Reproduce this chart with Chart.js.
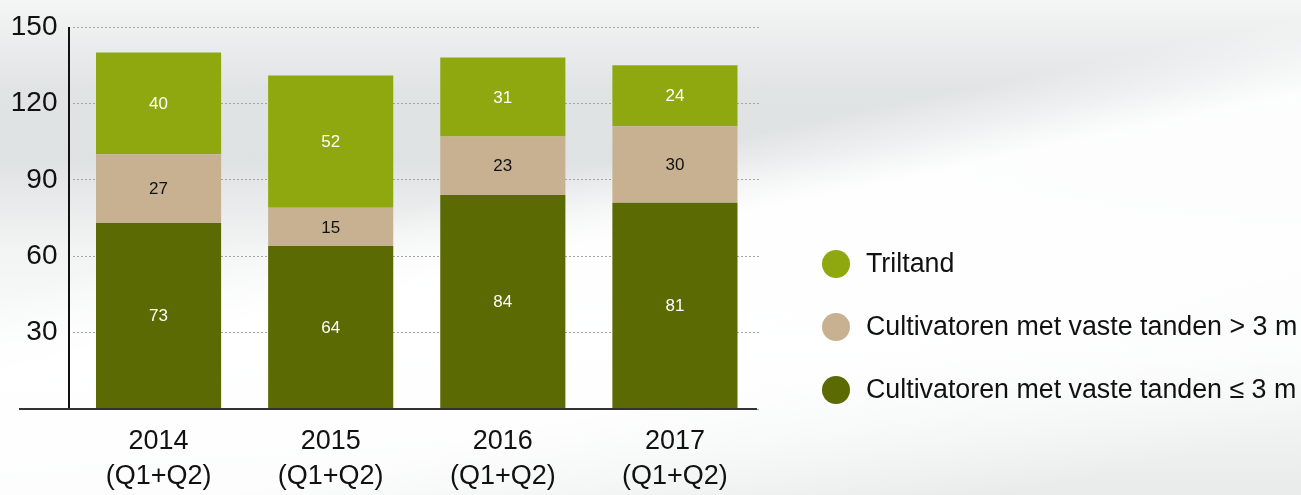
<!DOCTYPE html>
<html>
<head>
<meta charset="utf-8">
<script src="https://cdn.jsdelivr.net/npm/chart.js@4/dist/chart.umd.min.js"></script>
<style>
  html, body { margin: 0; padding: 0; }
  body {
    width: 1301px; height: 495px; overflow: hidden;
    background:
      linear-gradient(168deg, rgba(255,255,255,0) 0%, rgba(255,255,255,0) 38%, rgba(255,255,255,0.95) 48%, rgba(255,255,255,0.9) 70%, rgba(255,255,255,0) 92%),
      linear-gradient(180deg, #f4f5f5 0%, #e1e4e5 18%, #dfe2e3 32%, #f2f3f3 50%, #fafbfb 70%, #e9ebeb 100%);
  }
  #wrap { position: relative; width: 1301px; height: 495px; }
</style>
</head>
<body>
<div id="wrap"><canvas id="myChart" width="1301" height="495"></canvas></div>
<script>
'use strict';

var categories = [['2014', '(Q1+Q2)'], ['2015', '(Q1+Q2)'], ['2016', '(Q1+Q2)'], ['2017', '(Q1+Q2)']];
var seriesNames = ['Cultivatoren met vaste tanden \u2264 3 m', 'Cultivatoren met vaste tanden > 3 m', 'Triltand'];
var vasteKlein = [73, 64, 84, 81];
var vasteGroot = [27, 15, 23, 30];
var triltand = [40, 52, 31, 24];
var yTicks = [0, 30, 60, 90, 120, 150];

var colors = ['#5c6a03', '#c8b191', '#8fa80f'];
var labelColors = ['#ffffff', '#111111', '#ffffff'];
var narrow = '"Liberation Sans Narrow", "Arial Narrow", "Liberation Sans", sans-serif';

// waarden in de balken
var valueLabels = {
  id: 'valueLabels',
  afterDatasetsDraw: function (chart) {
    var ctx = chart.ctx;
    ctx.save();
    ctx.font = '17px ' + narrow;
    ctx.textAlign = 'center';
    ctx.textBaseline = 'middle';
    chart.data.datasets.forEach(function (ds, i) {
      var meta = chart.getDatasetMeta(i);
      meta.data.forEach(function (bar, j) {
        var p = bar.getProps(['x', 'y', 'base'], true);
        ctx.fillStyle = labelColors[i];
        ctx.fillText(ds.data[j], p.x, (p.y + p.base) / 2 + 1);
      });
    });
    ctx.restore();
  }
};

// assen (x-as loopt links door) en legenda rechts
var extras = {
  id: 'extras',
  afterDraw: function (chart) {
    var ctx = chart.ctx;
    var area = chart.chartArea;
    ctx.save();
    ctx.strokeStyle = '#111111';
    ctx.lineWidth = 2;
    ctx.beginPath();
    ctx.moveTo(69, area.top);
    ctx.lineTo(69, area.bottom);
    ctx.stroke();
    ctx.strokeStyle = '#333333';
    ctx.beginPath();
    ctx.moveTo(19, area.bottom);
    ctx.lineTo(757, area.bottom);
    ctx.stroke();

    var rows = [2, 1, 0];
    var ys = [264, 327, 390];
    ctx.font = '26.8px "Liberation Sans", Arial, sans-serif';
    ctx.textBaseline = 'middle';
    ctx.textAlign = 'left';
    rows.forEach(function (k, n) {
      ctx.fillStyle = colors[k];
      ctx.beginPath();
      ctx.arc(836, ys[n], 14, 0, Math.PI * 2);
      ctx.fill();
      ctx.fillStyle = '#111111';
      ctx.fillText(chart.data.datasets[k].label, 866, ys[n] + 1);
    });
    ctx.restore();
  }
};

var ctx = document.getElementById('myChart');

var chart = new Chart(ctx, {
  type: 'bar',
  data: {
    labels: categories,
    datasets: [
      { label: seriesNames[0], data: vasteKlein, backgroundColor: colors[0] },
      { label: seriesNames[1], data: vasteGroot, backgroundColor: colors[1] },
      { label: seriesNames[2], data: triltand, backgroundColor: colors[2] }
    ]
  },
  options: {
    responsive: false,
    animation: false,
    layout: { padding: { top: 27, right: 540, left: 0, bottom: 0 } },
    datasets: { bar: { categoryPercentage: 1, barPercentage: 0.727 } },
    plugins: {
      legend: { display: false },
      tooltip: { enabled: false }
    },
    scales: {
      x: {
        stacked: true,
        grid: { display: false },
        border: { display: false },
        ticks: {
          color: '#111111',
          font: { family: narrow, size: 27, lineHeight: 1.3 },
          padding: 7,
          maxRotation: 0
        },
        afterFit: function (scale) {
          scale.height = 86;
          scale.paddingLeft = 0;
          scale.paddingRight = 0;
        }
      },
      y: {
        stacked: true,
        min: yTicks[0],
        max: yTicks[yTicks.length - 1],
        afterBuildTicks: function (scale) {
          scale.ticks = yTicks.map(function (v) { return { value: v }; });
        },
        ticks: {
          color: '#111111',
          font: { family: narrow, size: 28 },
          padding: 15,
          callback: function (v) { return v === 0 ? '' : v; }
        },
        grid: {
          color: '#a5a5a5',
          drawTicks: false,
          lineWidth: 1
        },
        border: { display: false, dash: [2, 2] },
        afterFit: function (scale) {
          scale.width = 72.5;
          scale.paddingTop = 0;
          scale.paddingBottom = 0;
        }
      }
    }
  },
  plugins: [valueLabels, extras]
});
</script>
</body>
</html>
